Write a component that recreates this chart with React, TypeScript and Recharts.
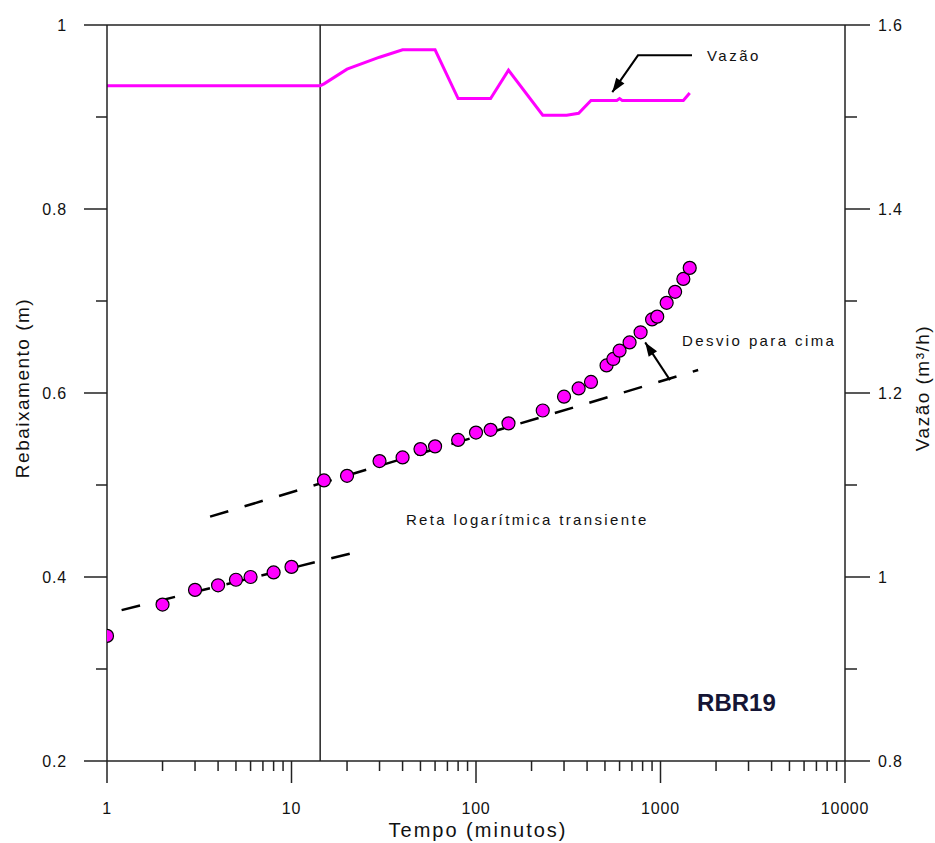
import React from 'react';
import { ComposedChart, XAxis, YAxis, Scatter, Line, ReferenceLine } from 'recharts';

const timeTicks = [
  1, 2, 3, 4, 5, 6, 7, 8, 9,
  10, 20, 30, 40, 50, 60, 70, 80, 90,
  100, 200, 300, 400, 500, 600, 700, 800, 900,
  1000, 2000, 3000, 4000, 5000, 6000, 7000, 8000, 9000,
  10000,
];
const majorTimeTicks = [1, 10, 100, 1000, 10000];
const leftTicks = [0.2, 0.3, 0.4, 0.5, 0.6, 0.7, 0.8, 0.9, 1];
const leftMajor = [0.2, 0.4, 0.6, 0.8, 1];
const rightTicks = [0.8, 0.9, 1, 1.1, 1.2, 1.3, 1.4, 1.5, 1.6];
const rightMajor = [0.8, 1, 1.2, 1.4, 1.6];

// Rebaixamento (m) vs Tempo (min)
const drawdown = [
  { t: 1, s: 0.336 }, { t: 2, s: 0.37 }, { t: 3, s: 0.386 }, { t: 4, s: 0.391 },
  { t: 5, s: 0.397 }, { t: 6, s: 0.4 }, { t: 8, s: 0.405 }, { t: 10, s: 0.411 },
  { t: 15, s: 0.505 }, { t: 20, s: 0.51 }, { t: 30, s: 0.526 }, { t: 40, s: 0.53 },
  { t: 50, s: 0.539 }, { t: 60, s: 0.542 }, { t: 80, s: 0.549 }, { t: 100, s: 0.557 },
  { t: 120, s: 0.56 }, { t: 150, s: 0.567 }, { t: 230, s: 0.581 }, { t: 300, s: 0.596 },
  { t: 360, s: 0.605 }, { t: 420, s: 0.612 }, { t: 510, s: 0.63 }, { t: 555, s: 0.637 },
  { t: 600, s: 0.646 }, { t: 680, s: 0.655 }, { t: 780, s: 0.666 }, { t: 900, s: 0.68 },
  { t: 960, s: 0.683 }, { t: 1080, s: 0.698 }, { t: 1200, s: 0.71 }, { t: 1330, s: 0.724 },
  { t: 1440, s: 0.736 },
];

// Vazão (m³/h)
const flow = [
  { t: 1, q: 1.534 }, { t: 14.3, q: 1.534 }, { t: 15, q: 1.536 }, { t: 20, q: 1.552 },
  { t: 30, q: 1.565 }, { t: 40, q: 1.573 }, { t: 60, q: 1.573 }, { t: 80, q: 1.52 },
  { t: 120, q: 1.52 }, { t: 150, q: 1.551 }, { t: 230, q: 1.502 }, { t: 310, q: 1.502 },
  { t: 360, q: 1.504 }, { t: 420, q: 1.518 }, { t: 580, q: 1.518 }, { t: 600, q: 1.52 },
  { t: 620, q: 1.518 }, { t: 1330, q: 1.518 }, { t: 1440, q: 1.526 },
];

const lowerTrend = [{ t: 1.2, s: 0.364 }, { t: 24.5, s: 0.429 }];
const upperTrend = [{ t: 3.62, s: 0.4656 }, { t: 1600, s: 0.625 }];

const vazaoArrow = [{ t: 1482, s: 0.967 }, { t: 755, s: 0.967 }, { t: 548, s: 0.927 }];
const desvioArrow = [{ t: 1126, s: 0.614 }, { t: 826, s: 0.655 }];

const pumpChangeTime = 14.3;

const notes = [
  { t: 1786, s: 0.967, text: 'Vazão', size: 15, spacing: 2.5, weight: 400, color: '#111' },
  { t: 1309, s: 0.6565, text: 'Desvio para cima', size: 15, spacing: 2.4, weight: 400, color: '#111' },
  { t: 41.7, s: 0.462, text: 'Reta logarítmica transiente', size: 15, spacing: 2.35, weight: 400, color: '#111' },
  { t: 1578, s: 0.263, text: 'RBR19', size: 24, spacing: 0, weight: 700, color: '#151535' },
];

const FONT = '"Liberation Sans", Arial, sans-serif';
const AX = '#222';

const XTick = (props: any) => {
  const { x, y, payload } = props;
  const v = payload.value;
  const major = majorTimeTicks.includes(v);
  return (
    <g>
      <line x1={x} x2={x} y1={y} y2={y + (major ? 22 : 10)} stroke={AX} strokeWidth={1.5} />
      {major && (
        <text x={x} y={y + 47} dy="0.35em" textAnchor="middle" fontSize={16} fontFamily={FONT} fill="#111" letterSpacing={0.8}>
          {String(v)}
        </text>
      )}
    </g>
  );
};

const LeftTick = (props: any) => {
  const { x, y, payload } = props;
  const v = payload.value;
  const major = leftMajor.includes(v);
  return (
    <g>
      <line x1={x - (major ? 23 : 11)} x2={x} y1={y} y2={y} stroke={AX} strokeWidth={1.5} />
      {major && (
        <text x={x - 40} y={y} dy="0.35em" textAnchor="end" fontSize={16} fontFamily={FONT} fill="#111" letterSpacing={0.8}>
          {String(v)}
        </text>
      )}
    </g>
  );
};

const RightTick = (props: any) => {
  const { x, y, payload } = props;
  const v = payload.value;
  const major = rightMajor.includes(v);
  return (
    <g>
      <line x1={x} x2={x + (major ? 25 : 12)} y1={y} y2={y} stroke={AX} strokeWidth={1.5} />
      {major && (
        <text x={x + 33} y={y} dy="0.35em" textAnchor="start" fontSize={16} fontFamily={FONT} fill="#111" letterSpacing={0.8}>
          {String(v)}
        </text>
      )}
    </g>
  );
};

const arrowDot = (props: any) => {
  const { index, cx, cy, points } = props;
  if (!points || index !== points.length - 1) return <g key={`d${index}`} />;
  const prev = points[index - 1];
  const ang = Math.atan2(cy - prev.y, cx - prev.x);
  const L = 14, W = 5;
  const bx = cx - L * Math.cos(ang), by = cy - L * Math.sin(ang);
  const px = -Math.sin(ang) * W, py = Math.cos(ang) * W;
  return (
    <polygon
      key={`d${index}`}
      points={`${cx},${cy} ${bx + px},${by + py} ${bx - px},${by - py}`}
      fill="#000"
    />
  );
};

const NoteShape = (props: any) => {
  const { cx, cy, payload } = props;
  return (
    <text
      x={cx}
      y={cy}
      dy="0.35em"
      textAnchor="start"
      fontSize={payload.size}
      fontWeight={payload.weight}
      letterSpacing={payload.spacing}
      fontFamily={FONT}
      fill={payload.color}
    >
      {payload.text}
    </text>
  );
};

const DotShape = (props: any) => {
  const { cx, cy } = props;
  return <circle cx={cx} cy={cy} r={6.5} fill="#ff00ff" stroke="#000" strokeWidth={1.2} />;
};

export default function App() {
  return (
    <div style={{ position: 'absolute', left: 0, top: 0, background: '#fff' }}>
      <ComposedChart width={935} height={843} margin={{ top: 25, right: 0, bottom: 0, left: 0 }}>
        <XAxis
          dataKey="t"
          type="number"
          scale="log"
          domain={[1, 10000]}
          allowDataOverflow
          ticks={timeTicks}
          interval={0}
          tick={<XTick />}
          tickSize={0}
          tickMargin={0}
          tickLine={false}
          height={82}
          axisLine={{ stroke: AX, strokeWidth: 1.5 }}
          label={{
            content: (p: any) => {
              const vb = p.viewBox;
              return (
                <text x={vb.x + vb.width / 2 + 2} y={830} dy="0.35em" textAnchor="middle" fontSize={20} fontFamily={FONT} fill="#111" letterSpacing={2}>
                  Tempo (minutos)
                </text>
              );
            },
          }}
        />
        <YAxis
          yAxisId="left"
          type="number"
          domain={[0.2, 1]}
          allowDataOverflow
          ticks={leftTicks}
          interval={0}
          tick={<LeftTick />}
          tickSize={0}
          tickMargin={0}
          tickLine={false}
          width={107}
          axisLine={{ stroke: AX, strokeWidth: 1.5 }}
          label={{
            content: (p: any) => {
              const vb = p.viewBox;
              const cx = 22, cy = vb.y + vb.height / 2 - 5;
              return (
                <text x={cx} y={cy} dy="0.35em" textAnchor="middle" fontSize={19} fontFamily={FONT} fill="#111" letterSpacing={1.5} transform={`rotate(-90 ${cx} ${cy})`}>
                  Rebaixamento (m)
                </text>
              );
            },
          }}
        />
        <YAxis
          yAxisId="right"
          orientation="right"
          type="number"
          domain={[0.8, 1.6]}
          allowDataOverflow
          ticks={rightTicks}
          interval={0}
          tick={<RightTick />}
          tickSize={0}
          tickMargin={0}
          tickLine={false}
          width={90}
          axisLine={{ stroke: AX, strokeWidth: 1.5 }}
          label={{
            content: (p: any) => {
              const vb = p.viewBox;
              const cx = 922, cy = vb.y + vb.height / 2 - 5;
              return (
                <text x={cx} y={cy} dy="0.35em" textAnchor="middle" fontSize={19} fontFamily={FONT} fill="#111" letterSpacing={1.5} transform={`rotate(-90 ${cx} ${cy})`}>
                  Vazão (m³/h)
                </text>
              );
            },
          }}
        />
        <ReferenceLine yAxisId="left" y={1} stroke={AX} strokeWidth={1.5} ifOverflow="extendDomain" />
        <ReferenceLine yAxisId="left" x={pumpChangeTime} stroke={AX} strokeWidth={1.5} />
        <Line
          yAxisId="left"
          data={lowerTrend}
          dataKey="s"
          stroke="#000"
          strokeWidth={2.5}
          strokeDasharray="19 17"
          dot={false}
          isAnimationActive={false}
        />
        <Line
          yAxisId="left"
          data={upperTrend}
          dataKey="s"
          stroke="#000"
          strokeWidth={2.5}
          strokeDasharray="19 17"
          dot={false}
          isAnimationActive={false}
        />
        <Line
          yAxisId="right"
          data={flow}
          dataKey="q"
          type="linear"
          stroke="#ff00ff"
          strokeWidth={3}
          dot={false}
          isAnimationActive={false}
        />
        <Line
          yAxisId="left"
          data={vazaoArrow}
          dataKey="s"
          type="linear"
          stroke="#000"
          strokeWidth={2}
          dot={arrowDot}
          isAnimationActive={false}
        />
        <Line
          yAxisId="left"
          data={desvioArrow}
          dataKey="s"
          type="linear"
          stroke="#000"
          strokeWidth={2}
          dot={arrowDot}
          isAnimationActive={false}
        />
        <Scatter yAxisId="left" data={drawdown} dataKey="s" shape={<DotShape />} isAnimationActive={false} />
        <Scatter yAxisId="left" data={notes} dataKey="s" shape={<NoteShape />} isAnimationActive={false} />
      </ComposedChart>
    </div>
  );
}
